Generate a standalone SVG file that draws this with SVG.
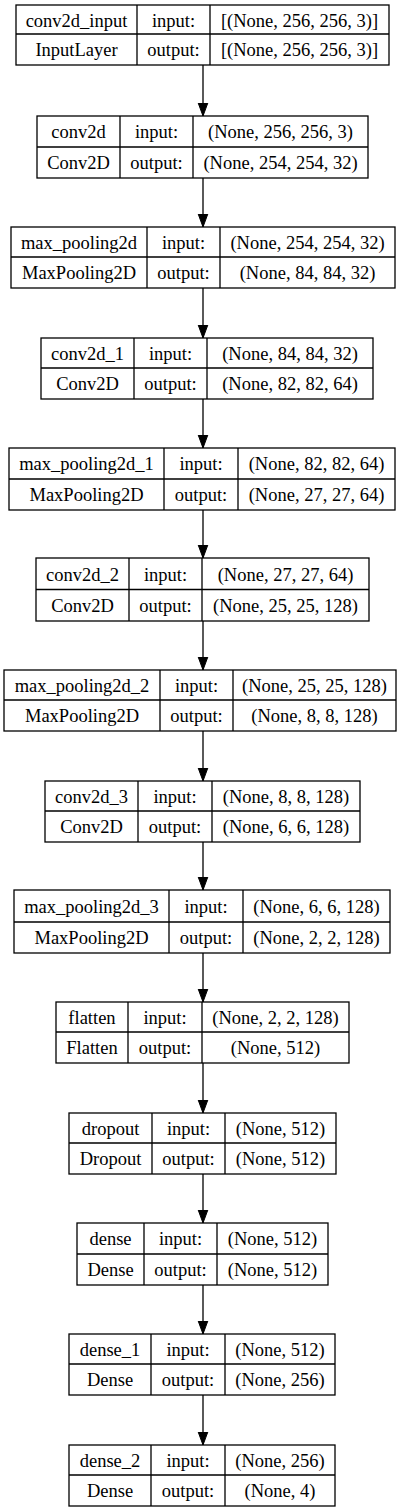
<svg xmlns="http://www.w3.org/2000/svg" width="405" height="1512" viewBox="0 0 405 1512">
<style>
.b{fill:#fff;stroke:#000;stroke-width:1.3}
.l{stroke:#000;stroke-width:1.3;fill:none}
text{font-family:"Liberation Serif","Times New Roman",serif;font-size:18.5px;fill:#000;text-anchor:middle}
</style>
<defs>
<marker id="ah" markerWidth="14" markerHeight="12" refX="13.5" refY="5.5" orient="auto" markerUnits="userSpaceOnUse">
<polygon points="0,0.5 13.5,5.5 0,10.5" fill="#000" stroke="#000" stroke-width="1"/>
</marker>
</defs>
<rect width="405" height="1512" fill="#fff"/>
<g id="connectors">
<line class="l" x1="203" y1="65" x2="203" y2="116" marker-end="url(#ah)"/>
<line class="l" x1="203" y1="178" x2="203" y2="227" marker-end="url(#ah)"/>
<line class="l" x1="203" y1="288" x2="203" y2="338" marker-end="url(#ah)"/>
<line class="l" x1="203" y1="399" x2="203" y2="448" marker-end="url(#ah)"/>
<line class="l" x1="203" y1="510" x2="203" y2="558" marker-end="url(#ah)"/>
<line class="l" x1="203" y1="621" x2="203" y2="670" marker-end="url(#ah)"/>
<line class="l" x1="203" y1="731" x2="203" y2="781" marker-end="url(#ah)"/>
<line class="l" x1="203" y1="842" x2="203" y2="890" marker-end="url(#ah)"/>
<line class="l" x1="203" y1="953" x2="203" y2="1002" marker-end="url(#ah)"/>
<line class="l" x1="203" y1="1063" x2="203" y2="1113" marker-end="url(#ah)"/>
<line class="l" x1="203" y1="1174" x2="203" y2="1223" marker-end="url(#ah)"/>
<line class="l" x1="203" y1="1285" x2="203" y2="1334" marker-end="url(#ah)"/>
<line class="l" x1="203" y1="1395" x2="203" y2="1445" marker-end="url(#ah)"/>
</g>
<g id="n1">
<rect class="b" x="16" y="5" width="373" height="60"/>
<path class="l" d="M16 34H389M137 5V65M210 5V65"/>
<text x="76.5" y="26.5">conv2d_input</text><text x="173.5" y="26.5">input:</text><text x="299.5" y="26.5">[(None, 256, 256, 3)]</text>
<text x="76.5" y="56">InputLayer</text><text x="173.5" y="56">output:</text><text x="299.5" y="56">[(None, 256, 256, 3)]</text>
</g>
<g id="n2">
<rect class="b" x="37" y="116" width="331" height="62"/>
<path class="l" d="M37 147H368M120 116V178M193 116V178"/>
<text x="78.5" y="138">conv2d</text><text x="156.5" y="138">input:</text><text x="280.5" y="138">(None, 256, 256, 3)</text>
<text x="78.5" y="169">Conv2D</text><text x="156.5" y="169">output:</text><text x="280.5" y="169">(None, 254, 254, 32)</text>
</g>
<g id="n3">
<rect class="b" x="11" y="227" width="384" height="61"/>
<path class="l" d="M11 257H395M147 227V288M220 227V288"/>
<text x="79" y="248.5">max_pooling2d</text><text x="183.5" y="248.5">input:</text><text x="307.5" y="248.5">(None, 254, 254, 32)</text>
<text x="79" y="279">MaxPooling2D</text><text x="183.5" y="279">output:</text><text x="307.5" y="279">(None, 84, 84, 32)</text>
</g>
<g id="n4">
<rect class="b" x="41" y="338" width="332" height="61"/>
<path class="l" d="M41 368H373M134 338V399M207 338V399"/>
<text x="87.5" y="359.5">conv2d_1</text><text x="170.5" y="359.5">input:</text><text x="290" y="359.5">(None, 84, 84, 32)</text>
<text x="87.5" y="390">Conv2D</text><text x="170.5" y="390">output:</text><text x="290" y="390">(None, 82, 82, 64)</text>
</g>
<g id="n5">
<rect class="b" x="9" y="448" width="386" height="62"/>
<path class="l" d="M9 479H395M164 448V510M238 448V510"/>
<text x="86.5" y="470">max_pooling2d_1</text><text x="201" y="470">input:</text><text x="316.5" y="470">(None, 82, 82, 64)</text>
<text x="86.5" y="501">MaxPooling2D</text><text x="201" y="501">output:</text><text x="316.5" y="501">(None, 27, 27, 64)</text>
</g>
<g id="n6">
<rect class="b" x="36" y="558" width="333" height="63"/>
<path class="l" d="M36 589.5H369M129 558V621M202 558V621"/>
<text x="82.5" y="580.5">conv2d_2</text><text x="165.5" y="580.5">input:</text><text x="285.5" y="580.5">(None, 27, 27, 64)</text>
<text x="82.5" y="612">Conv2D</text><text x="165.5" y="612">output:</text><text x="285.5" y="612">(None, 25, 25, 128)</text>
</g>
<g id="n7">
<rect class="b" x="4" y="670" width="392" height="61"/>
<path class="l" d="M4 700H396M160 670V731M233 670V731"/>
<text x="82" y="691.5">max_pooling2d_2</text><text x="196.5" y="691.5">input:</text><text x="314.5" y="691.5">(None, 25, 25, 128)</text>
<text x="82" y="722">MaxPooling2D</text><text x="196.5" y="722">output:</text><text x="314.5" y="722">(None, 8, 8, 128)</text>
</g>
<g id="n8">
<rect class="b" x="45" y="781" width="315" height="61"/>
<path class="l" d="M45 811H360M138 781V842M212 781V842"/>
<text x="91.5" y="802.5">conv2d_3</text><text x="175" y="802.5">input:</text><text x="286" y="802.5">(None, 8, 8, 128)</text>
<text x="91.5" y="833">Conv2D</text><text x="175" y="833">output:</text><text x="286" y="833">(None, 6, 6, 128)</text>
</g>
<g id="n9">
<rect class="b" x="14" y="890" width="376" height="63"/>
<path class="l" d="M14 922H390M169 890V953M243 890V953"/>
<text x="91.5" y="912.5">max_pooling2d_3</text><text x="206" y="912.5">input:</text><text x="316.5" y="912.5">(None, 6, 6, 128)</text>
<text x="91.5" y="944">MaxPooling2D</text><text x="206" y="944">output:</text><text x="316.5" y="944">(None, 2, 2, 128)</text>
</g>
<g id="n10">
<rect class="b" x="56" y="1002" width="293" height="61"/>
<path class="l" d="M56 1032H349M128 1002V1063M202 1002V1063"/>
<text x="92" y="1023.5">flatten</text><text x="165" y="1023.5">input:</text><text x="275.5" y="1023.5">(None, 2, 2, 128)</text>
<text x="92" y="1054">Flatten</text><text x="165" y="1054">output:</text><text x="275.5" y="1054">(None, 512)</text>
</g>
<g id="n11">
<rect class="b" x="69" y="1113" width="267" height="61"/>
<path class="l" d="M69 1143H336M152 1113V1174M225 1113V1174"/>
<text x="110.5" y="1134.5">dropout</text><text x="188.5" y="1134.5">input:</text><text x="280.5" y="1134.5">(None, 512)</text>
<text x="110.5" y="1165">Dropout</text><text x="188.5" y="1165">output:</text><text x="280.5" y="1165">(None, 512)</text>
</g>
<g id="n12">
<rect class="b" x="77" y="1223" width="251" height="62"/>
<path class="l" d="M77 1254H328M144 1223V1285M217 1223V1285"/>
<text x="110.5" y="1245">dense</text><text x="180.5" y="1245">input:</text><text x="272.5" y="1245">(None, 512)</text>
<text x="110.5" y="1276">Dense</text><text x="180.5" y="1276">output:</text><text x="272.5" y="1276">(None, 512)</text>
</g>
<g id="n13">
<rect class="b" x="69" y="1334" width="266" height="61"/>
<path class="l" d="M69 1364H335M151 1334V1395M225 1334V1395"/>
<text x="110" y="1355.5">dense_1</text><text x="188" y="1355.5">input:</text><text x="280" y="1355.5">(None, 512)</text>
<text x="110" y="1386">Dense</text><text x="188" y="1386">output:</text><text x="280" y="1386">(None, 256)</text>
</g>
<g id="n14">
<rect class="b" x="69" y="1445" width="266" height="61"/>
<path class="l" d="M69 1475H335M151 1445V1506M225 1445V1506"/>
<text x="110" y="1466.5">dense_2</text><text x="188" y="1466.5">input:</text><text x="280" y="1466.5">(None, 256)</text>
<text x="110" y="1497">Dense</text><text x="188" y="1497">output:</text><text x="280" y="1497">(None, 4)</text>
</g>
</svg>
